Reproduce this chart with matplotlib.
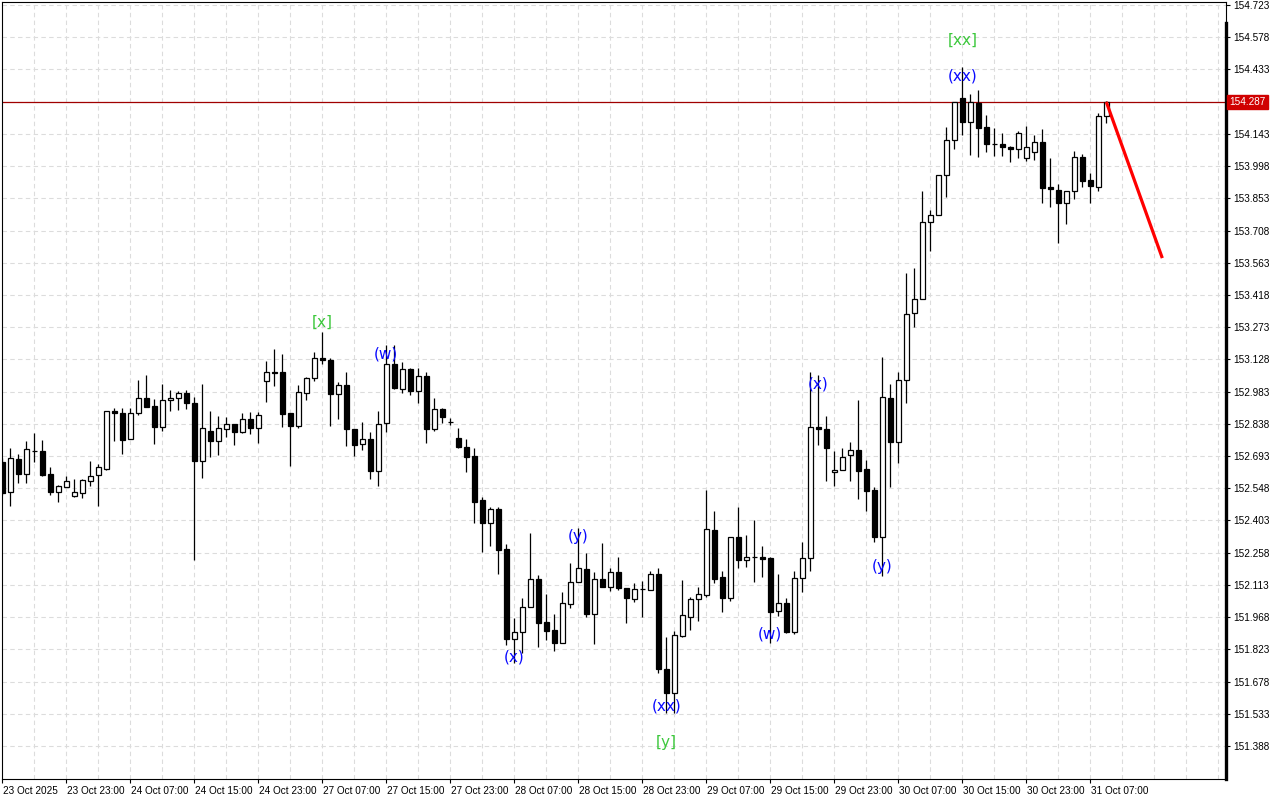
import matplotlib
matplotlib.use("Agg")
import matplotlib.pyplot as plt
import matplotlib.transforms as mtransforms
import numpy as np

# hourly candles, 23 Oct 15:00 -> 31 Oct
opens = [152.667, 152.530, 152.680, 152.611, 152.715, 152.715, 152.611, 152.530, 152.552, 152.512,
         152.525, 152.579, 152.607, 152.635, 152.894, 152.885, 152.768, 152.885, 152.953, 152.917,
         152.825, 152.944, 152.953, 152.975, 152.930, 152.669, 152.806, 152.762, 152.813, 152.836,
         152.803, 152.860, 152.821, 153.029, 153.070, 153.070, 152.885, 152.830, 152.975, 153.043,
         153.133, 153.124, 152.971, 153.011, 152.813, 152.746, 152.768, 152.627, 152.840, 153.106,
         152.996, 153.083, 152.987, 153.053, 152.813, 152.903, 152.848, 152.773, 152.735, 152.693,
         152.495, 152.393, 152.453, 152.273, 151.868, 151.902, 152.012, 152.138, 151.946, 151.910,
         151.853, 152.026, 152.125, 152.183, 151.981, 152.138, 152.102, 152.170, 152.098, 152.048,
         152.093, 152.090, 152.161, 151.733, 151.625, 151.884, 151.970, 152.048, 152.069, 152.360,
         152.150, 152.053, 152.327, 152.225, 152.237, 152.237, 152.233, 151.997, 152.030, 151.902,
         152.143, 152.233, 152.822, 152.813, 152.620, 152.629, 152.696, 152.720, 152.635, 152.540,
         152.330, 152.953, 152.758, 153.035, 153.335, 153.399, 153.745, 153.777, 153.957, 154.115,
         154.303, 154.195, 154.282, 154.173, 154.096, 154.096, 154.085, 154.074, 154.033, 154.060,
         154.106, 153.903, 153.890, 153.831, 153.886, 154.038, 153.935, 153.905, 154.223]
highs = [152.684, 152.729, 152.701, 152.761, 152.797, 152.765, 152.644, 152.561, 152.602, 152.590,
         152.590, 152.671, 152.656, 152.894, 152.908, 152.908, 152.908, 153.035, 153.058, 152.948,
         153.017, 152.989, 152.984, 152.989, 152.957, 153.016, 152.896, 152.875, 152.870, 152.836,
         152.885, 152.890, 152.890, 153.121, 153.175, 153.152, 152.885, 153.013, 153.050, 153.160,
         153.253, 153.133, 153.026, 153.073, 152.813, 152.845, 152.803, 152.896, 153.193, 153.193,
         153.115, 153.088, 153.088, 153.071, 152.954, 152.908, 152.863, 152.818, 152.768, 152.728,
         152.507, 152.465, 152.465, 152.296, 151.963, 152.053, 152.345, 152.158, 152.072, 151.982,
         152.080, 152.210, 152.368, 152.255, 152.173, 152.300, 152.191, 152.240, 152.098, 152.123,
         152.131, 152.176, 152.188, 151.880, 151.907, 152.135, 152.057, 152.105, 152.540, 152.446,
         152.177, 152.327, 152.462, 152.338, 152.405, 152.290, 152.237, 152.161, 152.053, 152.176,
         152.308, 153.071, 153.058, 152.873, 152.716, 152.728, 152.758, 152.945, 152.675, 152.555,
         153.139, 153.017, 153.073, 153.515, 153.538, 153.886, 153.800, 153.957, 154.173, 154.286,
         154.443, 154.322, 154.340, 154.228, 154.168, 154.146, 154.088, 154.157, 154.178, 154.138,
         154.164, 154.033, 153.917, 153.886, 154.066, 154.052, 153.966, 154.238, 154.292]
lows = [152.518, 152.469, 152.573, 152.573, 152.667, 152.603, 152.518, 152.488, 152.552, 152.510,
        152.503, 152.560, 152.469, 152.630, 152.762, 152.704, 152.768, 152.876, 152.912, 152.749,
        152.804, 152.894, 152.899, 152.903, 152.225, 152.593, 152.690, 152.698, 152.780, 152.743,
        152.795, 152.792, 152.750, 152.938, 153.010, 152.825, 152.650, 152.818, 152.945, 153.032,
        153.106, 152.830, 152.858, 152.740, 152.695, 152.719, 152.588, 152.560, 152.803, 152.995,
        152.975, 152.969, 152.933, 152.753, 152.807, 152.843, 152.833, 152.728, 152.623, 152.390,
        152.260, 152.290, 152.161, 151.843, 151.760, 151.805, 152.012, 151.835, 151.865, 151.817,
        151.850, 152.010, 152.125, 151.967, 151.846, 152.102, 152.087, 152.090, 151.940, 152.037,
        151.970, 152.090, 151.718, 151.535, 151.535, 151.880, 151.910, 151.952, 152.057, 152.120,
        151.993, 152.042, 152.188, 152.195, 152.128, 152.150, 151.853, 151.975, 151.895, 151.892,
        152.083, 152.177, 152.743, 152.582, 152.560, 152.629, 152.582, 152.498, 152.447, 152.308,
        152.153, 152.555, 152.663, 152.930, 153.275, 153.399, 153.617, 153.777, 153.860, 154.076,
        154.138, 154.048, 154.040, 154.063, 154.045, 154.045, 154.018, 154.036, 154.022, 154.025,
        153.833, 153.815, 153.650, 153.736, 153.849, 153.903, 153.831, 153.886, 154.193]
closes = [152.528, 152.683, 152.611, 152.723, 152.716, 152.608, 152.530, 152.557, 152.579, 152.530,
          152.584, 152.602, 152.643, 152.894, 152.885, 152.764, 152.885, 152.953, 152.912, 152.825,
          152.944, 152.953, 152.975, 152.930, 152.669, 152.818, 152.762, 152.818, 152.836, 152.803,
          152.860, 152.821, 152.876, 153.070, 153.065, 152.884, 152.830, 152.980, 153.043, 153.133,
          153.124, 152.971, 153.011, 152.813, 152.744, 152.768, 152.627, 152.836, 153.106, 153.000,
          153.083, 152.987, 153.055, 152.813, 152.903, 152.867, 152.848, 152.735, 152.690, 152.488,
          152.393, 152.453, 152.270, 151.868, 151.902, 152.012, 152.138, 151.943, 151.907, 151.853,
          152.030, 152.125, 152.188, 151.981, 152.138, 152.102, 152.170, 152.098, 152.053, 152.093,
          152.093, 152.161, 151.733, 151.625, 151.886, 151.976, 152.050, 152.071, 152.363, 152.138,
          152.053, 152.327, 152.225, 152.237, 152.237, 152.231, 151.993, 152.030, 151.902, 152.143,
          152.233, 152.822, 152.813, 152.728, 152.630, 152.690, 152.720, 152.627, 152.537, 152.330,
          152.957, 152.758, 153.035, 153.332, 153.399, 153.745, 153.778, 153.957, 154.115, 154.286,
          154.195, 154.286, 154.171, 154.096, 154.096, 154.083, 154.074, 154.148, 154.083, 154.106,
          153.901, 153.894, 153.831, 153.886, 154.038, 153.932, 153.910, 154.223, 154.287]

time_labels = ["23 Oct 2025", "23 Oct 23:00", "24 Oct 07:00", "24 Oct 15:00", "24 Oct 23:00",
               "27 Oct 07:00", "27 Oct 15:00", "27 Oct 23:00", "28 Oct 07:00", "28 Oct 15:00",
               "28 Oct 23:00", "29 Oct 07:00", "29 Oct 15:00", "29 Oct 23:00", "30 Oct 07:00",
               "30 Oct 15:00", "30 Oct 23:00", "31 Oct 07:00"]

price_ticks = [154.723, 154.578, 154.433, 154.288, 154.143, 153.998, 153.853, 153.708,
               153.563, 153.418, 153.273, 153.128, 152.983, 152.838, 152.693, 152.548,
               152.403, 152.258, 152.113, 151.968, 151.823, 151.678, 151.533, 151.388]

current_price = 154.287

# wave marks: text, candle, price, colour
wave_text = ["[x]", "(w)", "(x)", "(y)", "(xx)", "[y]", "(w)", "(x)", "(y)", "(xx)", "[xx]"]
wave_bar = [40, 48, 64, 72, 83, 83, 96, 102, 110, 120, 120]
wave_price = [153.296, 153.152, 151.789, 152.329, 151.568, 151.402, 151.892, 153.017,
              152.194, 154.404, 154.566]
wave_color = ["#3cc83c", "#0a0aff", "#0a0aff", "#0a0aff", "#0a0aff", "#3cc83c", "#0a0aff",
              "#0a0aff", "#0a0aff", "#0a0aff", "#3cc83c"]

# forecast arrow
forecast_bar = [138, 145]
forecast_price = [154.287, 153.584]

fnt = "Liberation Sans"

fig = plt.figure(figsize=(12.8, 8), dpi=100)
ax = fig.add_axes([2 / 1280, 21 / 800, 1224 / 1280, 777 / 800])

o = np.array(opens)
h = np.array(highs)
l = np.array(lows)
c = np.array(closes)
idx = np.arange(len(o))
up = c >= o

ax.vlines(idx, l, h, color="black", linewidth=0.9, zorder=2)
body_lo = np.minimum(o, c)
body_h = np.abs(c - o)
ax.bar(idx[up], body_h[up], bottom=body_lo[up], width=0.62, color="white",
       edgecolor="black", linewidth=0.9, zorder=3)
ax.bar(idx[~up], body_h[~up], bottom=body_lo[~up], width=0.62, color="black",
       edgecolor="black", linewidth=0.9, zorder=3)

ax.set_xlim(-0.0375, 152.9625)
ax.set_ylim(151.2396, 154.7365)

# grid
for yv in price_ticks:
    ax.axhline(yv, color="#dcdcdc", linewidth=0.8, linestyle=(0, (4, 3)), zorder=0)
for xv in range(4, 153, 4):
    ax.axvline(xv, color="#dcdcdc", linewidth=0.8, linestyle=(0, (4, 3)), zorder=0)

# current price line
ax.axhline(current_price, color="#a00000", linewidth=0.9, zorder=1)

ax.plot(forecast_bar, forecast_price, color="#ff0000", linewidth=2.3,
        solid_capstyle="butt", zorder=5)

for t, b, p, col in zip(wave_text, wave_bar, wave_price, wave_color):
    ax.text(b, p, t, color=col, fontsize=11, ha="center", va="center", zorder=6)

# axes look
ax.yaxis.tick_right()
ax.set_yticks(price_ticks)
# the grid label under the price tag is hidden, like in the terminal
ylabels = ["%.3f" % v for v in price_ticks]
ylabels[3] = ""
ax.set_yticklabels(ylabels, fontsize=7.2, family=fnt)
ax.set_xticks(np.arange(0, 8 * len(time_labels), 8))
ax.set_xticklabels(time_labels, fontsize=7.2, family=fnt, ha="left")
ax.tick_params(axis="y", length=3, width=0.8, pad=2)
ax.tick_params(axis="x", length=3, width=0.8, pad=2)
offset = mtransforms.ScaledTranslation(1 / 100, 0, fig.dpi_scale_trans)
for lab in ax.get_xticklabels():
    lab.set_transform(lab.get_transform() + offset)
for sp in ax.spines.values():
    sp.set_linewidth(0.8)
    sp.set_color("black")
ax.plot([1, 1], [0, 1 - 21 / 777], transform=ax.transAxes, color="black",
        linewidth=2.4, clip_on=False, zorder=7)

# price tag on the right axis
ax.text(1.0028, current_price, "%.3f" % current_price, transform=ax.get_yaxis_transform(),
        fontsize=7.2, family=fnt, color="white", ha="left", va="center", zorder=8,
        bbox=dict(boxstyle="square,pad=0.2", facecolor="#d00000", edgecolor="#d00000"))

fig.savefig("out.png", dpi=100)
